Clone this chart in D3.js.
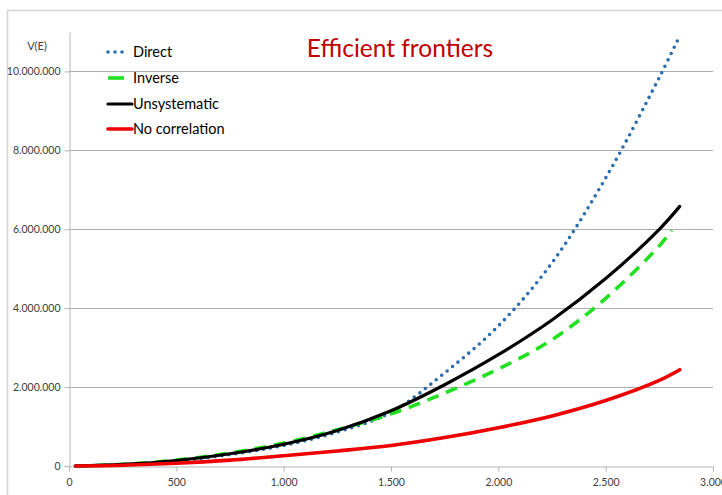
<!DOCTYPE html>
<html>
<head>
<meta charset="utf-8">
<script src="https://cdn.jsdelivr.net/npm/d3@7"></script>
<style>
  body { margin: 0; background: #fff; }
  svg { display: block; font-family: Lato, "Open Sans", sans-serif; }
</style>
</head>
<body>
<svg id="chart" width="722" height="495"></svg>
<script>
'use strict';

// data (values in millions)
const riskX = [30, 250, 500, 750, 1000, 1250, 1500, 1750, 2000, 2250, 2500, 2750, 2845];
const inverseX = [30, 250, 500, 750, 1000, 1250, 1500, 1750, 2000, 2250, 2500, 2750, 2808];
const direct = [0, 0.03, 0.12, 0.29, 0.52, 0.86, 1.36, 2.36, 3.55, 5.15, 7.3, 9.85, 10.9];
const inverse = [0, 0.04, 0.15, 0.33, 0.58, 0.92, 1.32, 1.85, 2.46, 3.2, 4.25, 5.58, 5.97];
const unsystematic = [0, 0.04, 0.14, 0.31, 0.55, 0.9, 1.4, 2.06, 2.82, 3.7, 4.75, 6.0, 6.58];
const noCorrelation = [0, 0.02, 0.07, 0.15, 0.26, 0.38, 0.52, 0.72, 0.97, 1.27, 1.66, 2.17, 2.44];
const yTicks = [0, 2e6, 4e6, 6e6, 8e6, 10e6];
const xTicks = [0, 500, 1000, 1500, 2000, 2500, 3000];
const legendNames = ['Direct', 'Inverse', 'Unsystematic', 'No correlation'];

const series = [
  {name: legendNames[0], xs: riskX, ys: direct, color: '#2a6db0', width: 3.6, dash: '0 7', cap: 'round'},
  {name: legendNames[1], xs: inverseX, ys: inverse, color: '#22e022', width: 3.6, dash: '12 8', cap: 'butt'},
  {name: legendNames[2], xs: riskX, ys: unsystematic, color: '#000', width: 3.2, dash: null, cap: 'round'},
  {name: legendNames[3], xs: riskX, ys: noCorrelation, color: '#ee0000', width: 3.6, dash: null, cap: 'round'}
];

const svg = d3.select('#chart');
const margin = {top: 32, left: 69, right: 722 - 713, bottom: 495 - 466};
const width = 722 - margin.left - margin.right;
const height = 495 - margin.top - margin.bottom;

const locale = d3.formatLocale({decimal: ',', thousands: '.', grouping: [3], currency: ['', '']});
const fmt = locale.format(',');

const x = d3.scaleLinear().domain([0, 3000]).range([0, width]);
const y = d3.scaleLinear().domain([0, 11e6]).range([height, 0]);

// outer chart border
svg.append('path')
  .attr('d', 'M7.5,495 V10.5 H722')
  .attr('fill', 'none')
  .attr('stroke', '#d4d4d4')
  .attr('stroke-width', 1.5);

const g = svg.append('g')
  .attr('transform', 'translate(' + margin.left + ',' + margin.top + ')');

// gridlines
g.append('g')
  .selectAll('line')
  .data(yTicks.slice(1))
  .enter().append('line')
    .attr('x1', 0).attr('x2', width)
    .attr('y1', d => Math.round(y(d)) + 0.5).attr('y2', d => Math.round(y(d)) + 0.5)
    .attr('stroke', '#adadad');

// y axis
const yAxis = g.append('g')
  .attr('transform', 'translate(0.5,0)')
  .call(d3.axisLeft(y).tickValues(yTicks).tickFormat(fmt).tickSize(5).tickPadding(4).tickSizeOuter(0));
yAxis.select('.domain').attr('stroke', '#b4b4b4');
yAxis.selectAll('.tick line').attr('stroke', '#b4b4b4');
yAxis.selectAll('.tick text')
  .attr('fill', '#404040')
  .style('font-size', '10.5px')
  .style('font-family', 'Lato, "Open Sans", sans-serif');

// x axis
const xAxis = g.append('g')
  .attr('transform', 'translate(0,' + (height + 0.5) + ')')
  .call(d3.axisBottom(x).tickValues(xTicks).tickFormat(fmt).tickSize(5).tickPadding(7).tickSizeOuter(0));
xAxis.select('.domain').attr('stroke', '#b4b4b4');
xAxis.selectAll('.tick line').attr('stroke', '#b4b4b4');
xAxis.selectAll('.tick text')
  .attr('fill', '#404040')
  .style('font-size', '10.5px')
  .style('font-family', 'Lato, "Open Sans", sans-serif');

// axis title
svg.append('text')
  .attr('x', 37).attr('y', 50)
  .attr('text-anchor', 'middle')
  .attr('fill', '#404040')
  .style('font-size', '11px')
  .text('V(E)');

// series lines
const line = d3.line()
  .x(d => x(d[0]))
  .y(d => y(d[1] * 1e6))
  .curve(d3.curveCatmullRom.alpha(0.5));

series.forEach(s => {
  g.append('path')
    .datum(s.xs.map((v, i) => [v, s.ys[i]]))
    .attr('d', line)
    .attr('fill', 'none')
    .attr('stroke', s.color)
    .attr('stroke-width', s.width)
    .attr('stroke-linecap', s.cap)
    .attr('stroke-dasharray', s.dash);
});

// title
svg.append('text')
  .attr('x', 400).attr('y', 57)
  .attr('text-anchor', 'middle')
  .attr('fill', '#c00000')
  .style('font-size', '24.5px')
  .text('Efficient frontiers');

// legend
const legendRows = [52, 78, 104, 129];
const legendEnds = [126, 124, 132, 132];
const legend = svg.append('g');
series.forEach((s, i) => {
  legend.append('line')
    .attr('x1', 108).attr('x2', legendEnds[i])
    .attr('y1', legendRows[i]).attr('y2', legendRows[i])
    .attr('stroke', s.color)
    .attr('stroke-width', s.width)
    .attr('stroke-linecap', s.cap)
    .attr('stroke-dasharray', s.dash ? (i === 0 ? '0 7' : '16 20') : null);
  legend.append('text')
    .attr('x', 133).attr('y', legendRows[i] + 5)
    .attr('fill', '#000')
    .style('font-size', '14.5px')
    .text(s.name);
});
</script>
</body>
</html>
